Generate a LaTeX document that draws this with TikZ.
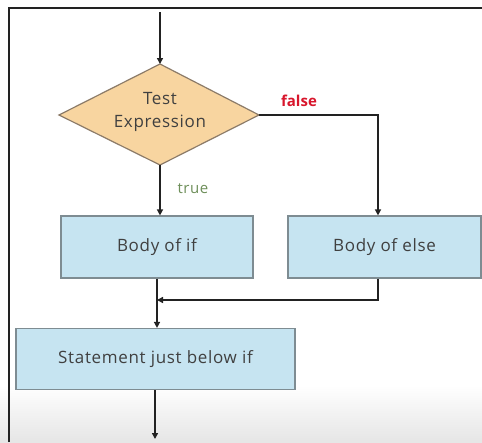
\documentclass[tikz,border=0pt]{standalone}
\usepackage{fontspec}
\setmainfont{Open Sans}
\usetikzlibrary{shapes.geometric,arrows.meta,positioning}
\definecolor{diafill}{HTML}{F8D5A0}
\definecolor{diaedge}{HTML}{8C7B68}
\definecolor{boxfill}{HTML}{C6E4F1}
\definecolor{boxedge}{HTML}{7E8C92}
\definecolor{txt}{HTML}{404040}
\definecolor{wire}{HTML}{222222}
\definecolor{falsered}{HTML}{D8162C}
\definecolor{truegreen}{HTML}{6E8F5A}
\newfontfamily\spacedfont[LetterSpace=4]{Open Sans}
\begin{document}
\begin{tikzpicture}[x=1pt,y=-1pt,
  procbox/.style={draw=boxedge,line width=1.2pt,fill=boxfill,text=txt,font=\spacedfont\fontsize{17}{19}\selectfont},
  wireline/.style={draw=wire,line width=2.4pt},
  tip/.style={-{Triangle[length=6pt,width=6pt]}}]
  \useasboundingbox (0,0) rectangle (482,442);
  \fill[white] (0,0) rectangle (482,442);
  % faint grey haze near the lower edge
  \shade[top color=white,bottom color=black!10] (0,385) rectangle (482,442);
  % frame
  \draw[wire,line width=1.6pt] (9,442) -- (9,8) -- (482,8);

  % decision diamond
  \path[draw=diaedge,line width=1.2pt,fill=diafill]
    (160,64) -- (259,115) -- (160,165) -- (59,115) -- cycle;
  \node[text=txt,align=center,font=\spacedfont\fontsize{17}{23}\selectfont] (test) at (160,112) {Test\\Expression};
  \coordinate (dtop) at (160,64);
  \coordinate (dright) at (259,115);
  \coordinate (dbottom) at (160,165);
  \coordinate (entry) at (160,12);

  % process boxes
  \node[procbox,minimum width=192pt,minimum height=62pt] (bodyif) at (157,247) {Body of if};
  \node[procbox,minimum width=193pt,minimum height=62pt] (bodyelse) at (384.5,247) {Body of else};
  \node[procbox,minimum width=279pt,minimum height=61pt] (stmt) at (155.5,359) {Statement just below if};
  \coordinate (exit) at (155,439);
  \coordinate (merge) at (157,300);

  % labels
  \node[text=falsered,font=\bfseries\fontsize{15}{17}\selectfont] (lfalse) at (299,101) {false};
  \node[text=truegreen,font=\spacedfont\fontsize{15}{17}\selectfont] (ltrue) at (193,189) {true};

  % connectors
  \draw[wireline,tip] (entry) -- (dtop);
  \draw[wireline,tip] (dbottom) -- (bodyif.north -| dbottom);
  \draw[wireline,tip] (dright) -- (378,115) -- (bodyelse.north -| 378,0);
  \draw[wireline] (bodyif.south) -- (merge);
  \draw[wireline,tip] (bodyelse.south -| 378,0) -- (378,300) -- (merge);
  \draw[wireline,tip] (merge) -- (stmt.north -| merge);
  \draw[wireline,tip] (stmt.south -| exit) -- (exit);
\end{tikzpicture}
\end{document}
